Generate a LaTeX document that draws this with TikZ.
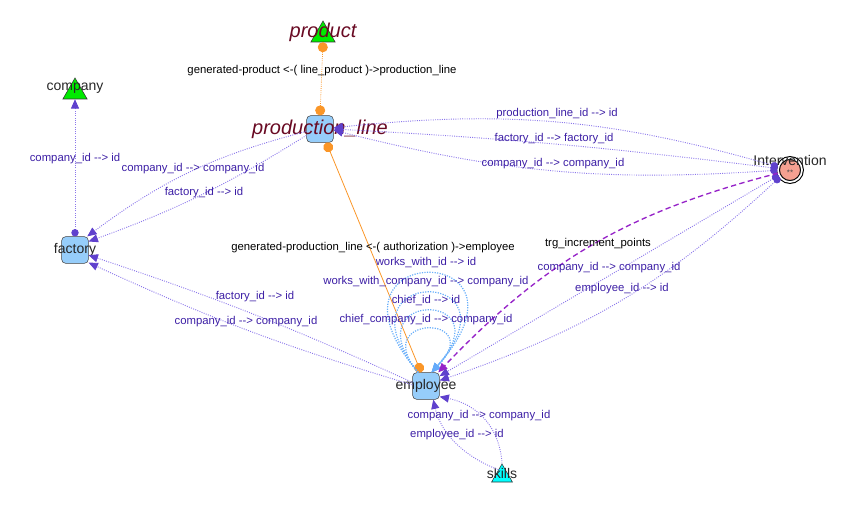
\documentclass[tikz,border=0pt]{standalone}
\usepackage{fontspec}
\setmainfont{Liberation Sans}
\usepackage{tikz}
\usetikzlibrary{positioning,shapes.geometric,arrows.meta}

\definecolor{fkline}{RGB}{140,120,235}
\definecolor{fkhead}{RGB}{95,65,205}
\definecolor{fktext}{RGB}{60,30,165}
\definecolor{trgline}{RGB}{150,35,200}
\definecolor{selfline}{RGB}{105,175,250}
\definecolor{selfhead}{RGB}{100,170,250}
\definecolor{genline}{RGB}{250,150,40}
\definecolor{boxfill}{RGB}{150,205,250}
\definecolor{tablered}{RGB}{105,10,35}
\definecolor{trgfill}{RGB}{245,160,145}
\definecolor{greenfill}{RGB}{0,235,0}
\definecolor{cyanfill}{RGB}{0,255,255}

\newcommand{\fkto}{-{}->}

\begin{document}
\begin{tikzpicture}[x=0.75pt,y=0.75pt,
  tbl/.style={draw=black!75,rounded corners=3pt,fill=boxfill,minimum size=20pt,inner sep=0pt},
  tri/.style={draw=black!80,regular polygon,regular polygon sides=3,minimum size=21pt,inner sep=0pt},
  tname/.style={font=\fontsize{10.5}{12}\selectfont,text=black!85},
  tbig/.style={font=\fontsize{15}{17}\itshape\selectfont,text=tablered},
  fk/.style={draw=fkline,densely dotted,line width=0.7pt},
  gen/.style={draw=genline,line width=0.6pt,gendot-gendot},
  selfloop/.style={draw=selfline,densely dotted,line width=0.9pt,-selfarr},
  trgedge/.style={draw=trgline,dash pattern=on 4pt off 2.5pt,line width=1pt,-trgarr},
  fklbl/.style={font=\fontsize{8.5}{10}\selectfont,text=fktext,inner sep=1pt},
  genlbl/.style={font=\fontsize{8.5}{10}\selectfont,text=black,inner sep=1pt},
  fkarr/.tip={Triangle[length=7pt,width=6pt,color=fkhead]},
  fkdot/.tip={Circle[length=5.5pt,color=fkhead]},
  gendot/.tip={Circle[length=7.5pt,color=genline]},
  selfarr/.tip={Triangle[length=7pt,width=6pt,color=selfhead]},
  trgarr/.tip={Triangle[length=7pt,width=6pt,color=trgline]}]
\useasboundingbox (0,0) rectangle (849,-520);

% Tables
\node[tri,fill=greenfill,label={[tbig,yshift=2pt]center:product}] (product) at (323,-35) {};
\node[tri,fill=greenfill,label={[tname,yshift=3pt]center:company}] (company) at (75,-92) {};
\node[tbl,label={[tbig]center:production\_line}] (pline) at (320,-129) {};
\node[tbl,label={[tname]center:factory}] (factory) at (75,-250) {};
\node[tbl,label={[tname]center:employee}] (employee) at (426,-386) {};
\node[tri,fill=cyanfill,minimum size=18pt,label={[tname,yshift=2pt]center:skills}] (skills) at (502,-476) {};
\node[circle,draw,double,double distance=1.3pt,line width=0.8pt,fill=trgfill,minimum size=18pt,inner sep=0pt,
  label={[tname,yshift=7pt]center:Intervention},
  label={[font=\fontsize{6}{6}\selectfont,text=black!70,yshift=-2pt]center:**}] (intervention) at (790,-170) {};

% Generated relations
\draw[gen,densely dotted] (product.south) -- (pline.north);
\draw[gen] (pline.-65) -- (employee.110);

% Foreign keys
\draw[fk,fkdot-fkarr] (factory.north) -- (company.south);
\draw[fk,-fkarr] (pline.190) to[bend right=11] (factory.48);
\draw[fk,-fkarr] (pline.205) to[bend left=6] (factory.32);
\draw[fk,-fkarr] (employee.165) to[bend right=3] (factory.-21);
\draw[fk,-fkarr] (employee.175) to[bend left=4] (factory.-43);
\draw[fk,fkdot-fkarr] (intervention.165) to[bend right=11] (pline.5);
\draw[fk,fkdot-fkarr] (intervention.173) to[bend right=2] (pline.0);
\draw[fk,fkdot-fkarr] (intervention.181) to[bend left=9] (pline.-5);
\draw[fk,fkdot-fkarr] (intervention.205) to (employee.36);
\draw[fk,fkdot-fkarr] (intervention.215) to[bend left=12] (employee.22);
\draw[fk,-fkarr] (skills.120) .. controls (460,-455) and (440,-430) .. (employee.-62);
\draw[fk,-fkarr] (skills.north) .. controls (500,-430) and (480,-405) .. (employee.-38);

% Self references
\draw[selfloop] (employee.120) .. controls (305,-240) and (550,-240) .. (employee.68);
\draw[selfloop] (employee.120) .. controls (330,-266) and (525,-266) .. (employee.68);
\draw[selfloop] (employee.120) .. controls (350,-290) and (505,-290) .. (employee.68);
\draw[selfloop] (employee.120) .. controls (368,-314) and (488,-314) .. (employee.68);

% Trigger
\draw[trgedge] (intervention.195) to[bend right=16] (employee.48);

% Labels
\node[genlbl] (genprod) at (322,-71) {generated-product <-( line\_product )->production\_line};
\node[genlbl] (genauth) at (373,-248) {generated-production\_line <-( authorization )->employee};
\node[fklbl] (fkcompany) at (75,-159) {company\_id \fkto{} id};
\node[fklbl] (fkplinecomp) at (193,-169) {company\_id \fkto{} company\_id};
\node[fklbl] (fkplinefact) at (204,-193) {factory\_id \fkto{} id};
\node[fklbl] (fkempfact) at (255,-297) {factory\_id \fkto{} id};
\node[fklbl] (fkempcomp) at (246,-322) {company\_id \fkto{} company\_id};
\node[fklbl] (fkintpline) at (557,-114) {production\_line\_id \fkto{} id};
\node[fklbl] (fkintfact) at (554,-139) {factory\_id \fkto{} factory\_id};
\node[fklbl] (fkintcomp) at (553,-164) {company\_id \fkto{} company\_id};
\node[genlbl] (trglbl) at (598,-244) {trg\_increment\_points};
\node[fklbl] (fkintempcomp) at (609,-268) {company\_id \fkto{} company\_id};
\node[fklbl] (fkintemp) at (622,-289) {employee\_id \fkto{} id};
\node[fklbl] (selfwith) at (426,-263) {works\_with\_id \fkto{} id};
\node[fklbl] (selfwithcomp) at (426,-282) {works\_with\_company\_id \fkto{} company\_id};
\node[fklbl] (selfchief) at (426,-301) {chief\_id \fkto{} id};
\node[fklbl] (selfchiefcomp) at (426,-320) {chief\_company\_id \fkto{} company\_id};
\node[fklbl] (fkskillcomp) at (479,-416) {company\_id \fkto{} company\_id};
\node[fklbl] (fkskillemp) at (457,-435) {employee\_id \fkto{} id};
\end{tikzpicture}
\end{document}
